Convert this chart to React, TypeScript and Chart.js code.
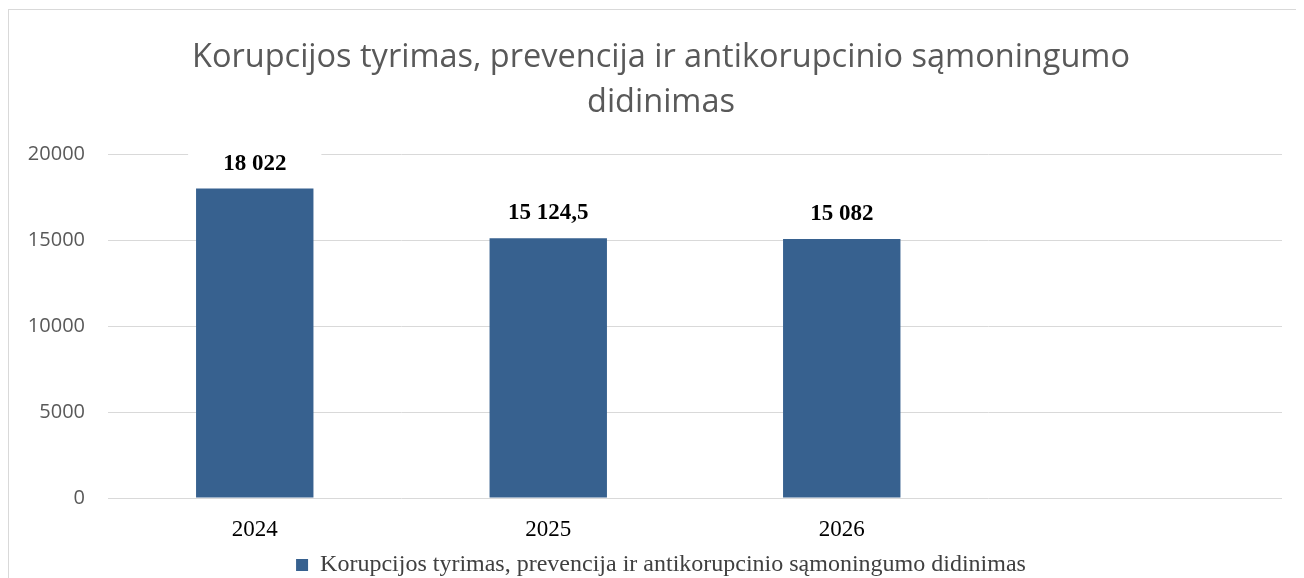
import React, { useEffect, useRef } from 'react';
import { Chart, registerables } from 'chart.js';

Chart.register(...registerables);

const categories = ['2024', '2025', '2026', ''];
const values: (number | null)[] = [18022, 15124.5, 15082, null];
const valueLabels = ['18 022', '15 124,5', '15 082', ''];
const yTicks = [0, 5000, 10000, 15000, 20000];
const seriesName = 'Korupcijos tyrimas, prevencija ir antikorupcinio sąmoningumo didinimas';
const titleLines = ['Korupcijos tyrimas, prevencija ir antikorupcinio sąmoningumo', 'didinimas'];

const BAR_COLOR = '#37618f';

const dataLabelPlugin = {
  id: 'dataLabels',
  afterLayout(chart: any) {
    // let the y tick labels extend left of the axis box without being clipped
    if (chart.scales.y) chart.scales.y.left = 0;
  },
  afterDatasetsDraw(chart: any) {
    const ctx = chart.ctx;
    const meta = chart.getDatasetMeta(0);
    ctx.save();
    ctx.font = 'bold 23px "Liberation Serif"';
    ctx.textAlign = 'center';
    ctx.textBaseline = 'middle';
    meta.data.forEach((bar: any, i: number) => {
      const label = valueLabels[i];
      if (!label || values[i] == null) return;
      const cx = bar.x;
      const cy = bar.y - 25;
      const w = ctx.measureText(label).width;
      ctx.fillStyle = '#ffffff';
      ctx.fillRect(cx - w / 2 - 35, cy - 17, w + 70, 34);
      ctx.fillStyle = '#000000';
      ctx.fillText(label, cx, cy);
    });
    ctx.restore();
  },
};

export default function App() {
  const canvasRef = useRef<HTMLCanvasElement | null>(null);

  useEffect(() => {
    document.documentElement.style.overflow = 'hidden';
    document.body.style.overflow = 'hidden';
    const canvas = canvasRef.current;
    if (!canvas) return;
    const chart = new Chart(canvas, {
      type: 'bar',
      data: {
        labels: categories,
        datasets: [
          {
            label: seriesName,
            data: values,
            backgroundColor: BAR_COLOR,
            borderWidth: 0,
            barPercentage: 0.5,
            categoryPercentage: 0.8,
          },
        ],
      },
      options: {
        animation: false,
        responsive: false,
        maintainAspectRatio: false,
        layout: { padding: { left: 31, right: 14, top: 0, bottom: 0 } },
        plugins: {
          tooltip: { enabled: false },
          title: {
            display: true,
            text: titleLines,
            color: '#595959',
            font: { family: '"Open Sans"', size: 32.5, weight: 'normal', lineHeight: 1.385 },
            padding: { top: 25, bottom: 29.6 },
          },
          legend: {
            display: true,
            position: 'bottom',
            labels: {
              color: '#404040',
              font: { family: '"Liberation Serif"', size: 24 },
              boxWidth: 12,
              boxHeight: 12,
              padding: 17,
            },
          },
        },
        scales: {
          x: {
            grid: { display: false },
            border: { display: false },
            ticks: {
              color: '#000000',
              font: { family: '"Liberation Serif"', size: 23 },
              padding: 10,
            },
            afterFit(scale: any) {
              scale.height = 38;
            },
          },
          y: {
            min: yTicks[0],
            max: yTicks[yTicks.length - 1],
            grid: { color: '#d9d9d9', lineWidth: 1, drawTicks: false },
            border: { display: false },
            ticks: {
              stepSize: yTicks[1] - yTicks[0],
              color: '#595959',
              font: { family: '"Open Sans"', size: 20 },
              padding: 23,
              callback: (v: any) => String(v),
            },
            afterFit(scale: any) {
              scale.width = 68;
            },
          },
        },
      },
      plugins: [dataLabelPlugin],
    });
    return () => chart.destroy();
  }, []);

  return (
    <div
      style={{
        position: 'relative',
        top: 1,
        width: 1288,
        borderTop: '1px solid #d9d9d9',
        borderLeft: '1px solid #d9d9d9',
        boxSizing: 'border-box',
      }}
    >
      <canvas ref={canvasRef} width={1287} height={577} style={{ display: 'block' }} />
    </div>
  );
}
